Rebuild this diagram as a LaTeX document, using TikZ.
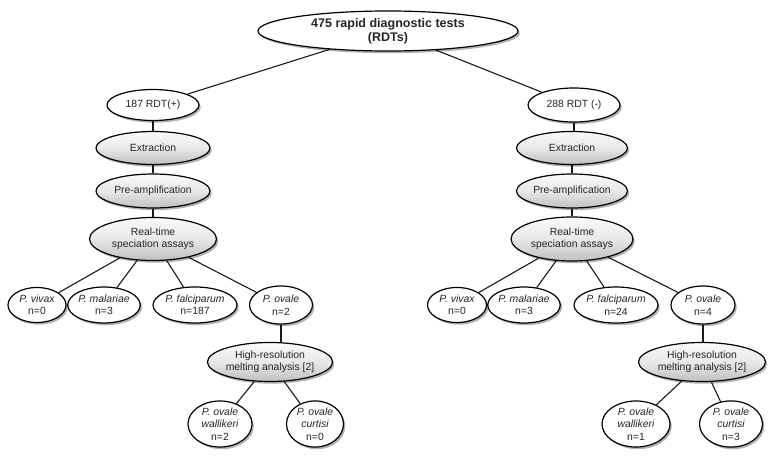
\documentclass[tikz,border=0pt]{standalone}
\usepackage{fontspec}
\setmainfont{Liberation Sans}
\usetikzlibrary{shapes.geometric,shadows,backgrounds}
\begin{document}
\begin{tikzpicture}[x=1pt,y=-1pt,
  base/.style={ellipse,draw=black,line width=1.2pt,inner sep=0pt,align=center,text=black!85,
    font=\fontsize{10.4}{12.5}\selectfont,
    drop shadow={shadow xshift=1.8pt,shadow yshift=-2.2pt,fill=black,opacity=0.3}},
  result/.style={base,fill=white},
  process/.style={base,top color=gray!4,bottom color=gray!50,middle color=gray!18},
  conn/.style={line width=1.1pt,draw=black!90}]
\useasboundingbox (0,0) rectangle (782,457);

\node[result,minimum width=260pt,minimum height=40pt,font=\fontsize{12.5}{14.3}\selectfont\bfseries]
  (top) at (388,31) {475 rapid diagnostic tests\\(RDTs)};

% left branch
\node[result,minimum width=92pt,minimum height=31pt] (pos) at (153,105) {187 RDT(+)};
\node[process,minimum width=114pt,minimum height=33pt] (extL) at (153,148) {Extraction};
\node[process,minimum width=114pt,minimum height=34pt] (preL) at (153,191) {Pre-amplification};
\node[process,minimum width=127pt,minimum height=43pt] (rtL) at (153,239) {Real-time\\speciation assays};
\node[result,minimum width=58pt,minimum height=35pt] (vivL) at (37,305) {\itshape P. vivax\\n=0};
\node[result,minimum width=68pt,minimum height=36pt] (malL) at (104,305) {\itshape P. malariae\\n=3};
\node[result,minimum width=84pt,minimum height=36pt] (falL) at (195,305) {\itshape P. falciparum\\n=187};
\node[result,minimum width=63pt,minimum height=38pt] (ovL) at (281,305) {\itshape P. ovale\\n=2};
\node[process,minimum width=125pt,minimum height=39pt] (hrmL) at (270,362) {High-resolution\\melting analysis [2]};
\node[result,minimum width=64pt,minimum height=42pt] (walL) at (220,424) {\itshape P. ovale\\\itshape wallikeri\\n=2};
\node[result,minimum width=57pt,minimum height=42pt] (curL) at (315,424) {\itshape P. ovale\\\itshape curtisi\\n=0};

% right branch
\node[result,minimum width=92pt,minimum height=34pt] (neg) at (574,105) {288 RDT (-)};
\node[process,minimum width=111pt,minimum height=33pt] (extR) at (572,148) {Extraction};
\node[process,minimum width=111pt,minimum height=34pt] (preR) at (572,191) {Pre-amplification};
\node[process,minimum width=122pt,minimum height=44pt] (rtR) at (572,239) {Real-time\\speciation assays};
\node[result,minimum width=59pt,minimum height=35pt] (vivR) at (457,305) {\itshape P. vivax\\n=0};
\node[result,minimum width=69pt,minimum height=36pt] (malR) at (524,305) {\itshape P. malariae\\n=3};
\node[result,minimum width=84pt,minimum height=36pt] (falR) at (616,305) {\itshape P. falciparum\\n=24};
\node[result,minimum width=64pt,minimum height=38pt] (ovR) at (703,305) {\itshape P. ovale\\n=4};
\node[process,minimum width=127pt,minimum height=39pt] (hrmR) at (702,362) {High-resolution\\melting analysis [2]};
\node[result,minimum width=68pt,minimum height=42pt] (walR) at (636,424) {\itshape P. ovale\\\itshape wallikeri\\n=1};
\node[result,minimum width=63pt,minimum height=42pt] (curR) at (731,424) {\itshape P. ovale\\\itshape curtisi\\n=3};

\begin{scope}[on background layer]
\draw[conn] (top) -- (pos);
\draw[conn] (top) -- (neg);
\draw[conn] (pos) -- (extL);
\draw[conn] (extL) -- (preL);
\draw[conn] (preL) -- (rtL);
\draw[conn] (rtL) -- (vivL);
\draw[conn] (rtL) -- (malL);
\draw[conn] (rtL) -- (falL);
\draw[conn] (rtL) -- (ovL);
\draw[conn] (ovL.south) -- (ovL.south |- hrmL.north);
\draw[conn] (hrmL) -- (walL);
\draw[conn] (hrmL) -- (curL);
\draw[conn] (neg.south) -- (neg.south |- extR.north);
\draw[conn] (extR) -- (preR);
\draw[conn] (preR) -- (rtR);
\draw[conn] (rtR) -- (vivR);
\draw[conn] (rtR) -- (malR);
\draw[conn] (rtR) -- (falR);
\draw[conn] (rtR) -- (ovR);
\draw[conn] (ovR.south) -- (ovR.south |- hrmR.north);
\draw[conn] (hrmR) -- (walR);
\draw[conn] (hrmR) -- (curR);
\end{scope}
\end{tikzpicture}
\end{document}
